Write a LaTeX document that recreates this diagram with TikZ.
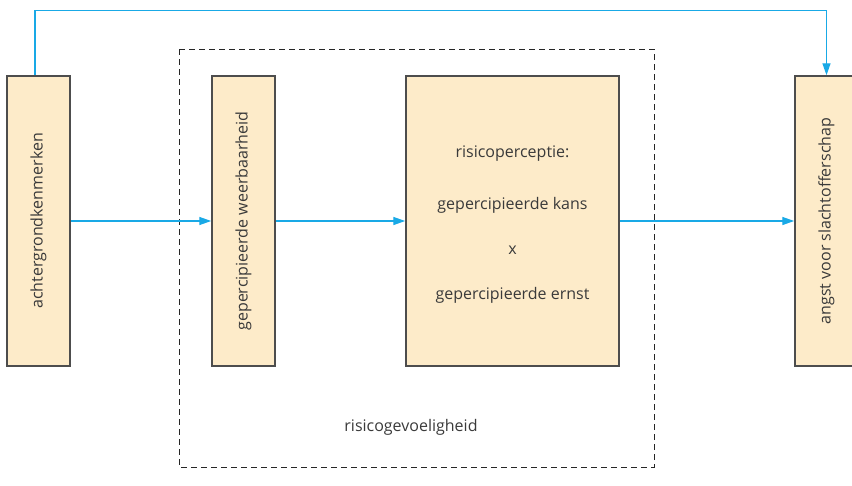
\documentclass[tikz,border=0pt]{standalone}
\usepackage{fontspec}
\setmainfont{Open Sans}
\usetikzlibrary{arrows.meta,positioning}

\definecolor{boxfill}{HTML}{FDEBC9}
\definecolor{boxline}{HTML}{4D4D4D}
\definecolor{flowblue}{HTML}{19A9E6}
\definecolor{txtgray}{HTML}{3A3A3A}

\tikzset{
  factor/.style={draw=boxline, fill=boxfill, line width=1.5pt,
    minimum width=63pt, minimum height=290pt, inner sep=0pt},
  widefactor/.style={factor, minimum width=213pt},
  flow/.style={-{Triangle[length=12pt,width=8pt]}, draw=flowblue, line width=1.4pt},
  lbl/.style={text=txtgray, font=\fontsize{16}{19}\selectfont},
}

\begin{document}
\begin{tikzpicture}[x=1pt, y=1pt]
  \useasboundingbox (0,0) rectangle (852,-485);

  % dashed region
  \draw[dashed, dash pattern=on 6pt off 4pt, line width=1pt, black!85]
    (179,-49) rectangle (654,-467);
  \node[lbl] (gevoelig) at (411,-427) {risicogevoeligheid};

  % boxes
  \node[factor] (kenmerken) at (38.5,-221) {};
  \node[factor, right=140.5pt of kenmerken] (weerbaarheid) {};
  \node[widefactor, right=129.5pt of weerbaarheid] (perceptie) {};
  \node[factor, right=174.5pt of perceptie] (angst) {};

  % texts
  \node[lbl, rotate=90] at (kenmerken) {achtergrondkenmerken};
  \node[lbl, rotate=90] at (weerbaarheid) {gepercipieerde weerbaarheid};
  \node[lbl, rotate=90] at (angst) {angst voor slachtofferschap};
  \node[lbl, font=\fontsize{16}{45}\selectfont, align=center]
    at ([yshift=-4pt]perceptie.center)
    {risicoperceptie:\\[7pt] gepercipieerde kans\\ x\\ gepercipieerde ernst};

  % connectors
  \draw[flow] (kenmerken) -- (weerbaarheid);
  \draw[flow] (weerbaarheid) -- (perceptie);
  \draw[flow] (perceptie) -- (angst);
  \draw[flow] ([xshift=-3.5pt]kenmerken.north) -- ++(0,64.5) -| (angst.north);

\end{tikzpicture}
\end{document}
